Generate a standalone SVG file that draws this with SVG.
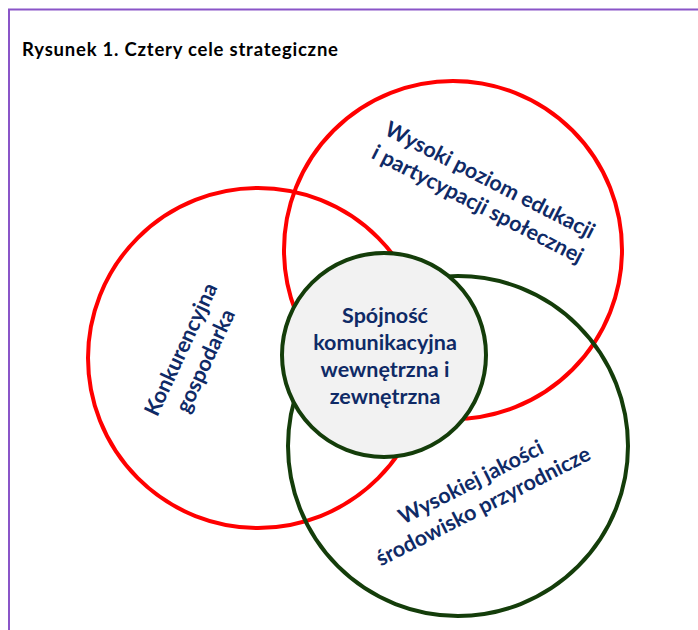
<svg xmlns="http://www.w3.org/2000/svg" width="698" height="630" viewBox="0 0 698 630">
<style>
.lbl{font-family:Lato,"Open Sans","Liberation Sans",sans-serif;font-weight:bold;fill:#0f2a66;font-size:21.5px;text-anchor:middle}
.red{fill:none;stroke:#ff0000;stroke-width:4}
.grn{fill:none;stroke:#143d0a;stroke-width:4}
</style>
<rect width="698" height="630" fill="#ffffff"/>
<path d="M9 640 V9.5 H710" fill="none" stroke="#8a55c8" stroke-width="2"/>
<text x="22" y="56" font-family="Lato,'Liberation Sans',sans-serif" font-weight="bold" font-size="18.5" fill="#000" textLength="316" lengthAdjust="spacing">Rysunek 1. Cztery cele strategiczne</text>
<g id="konkurencyjna">
<circle class="red" cx="258" cy="358" r="170"/>
</g>
<g id="edukacja">
<circle class="red" cx="453" cy="250" r="169"/>
</g>
<g id="srodowisko">
<circle class="grn" cx="458" cy="446" r="170"/>
</g>
<g id="spojnosc">
<circle cx="384" cy="355" r="102" fill="#f2f2f2" stroke="#143d0a" stroke-width="4"/>
<text class="lbl"><tspan x="385" y="323">Spójność</tspan><tspan x="385" y="350">komunikacyjna</tspan><tspan x="385" y="377">wewnętrzna i</tspan><tspan x="385" y="404">zewnętrzna</tspan></text>
</g>
<g id="labels">
<text class="lbl" transform="translate(484,192) rotate(27)"><tspan x="0" y="-6">Wysoki poziom edukacji</tspan><tspan x="0" y="21">i partycypacji społecznej</tspan></text>
<text class="lbl" transform="translate(193,355) rotate(-65)"><tspan x="0" y="-6">Konkurencyjna</tspan><tspan x="0" y="21">gospodarka</tspan></text>
<text class="lbl" transform="translate(477,494) rotate(-27)"><tspan x="0" y="-6">Wysokiej jakości</tspan><tspan x="0" y="21">środowisko przyrodnicze</tspan></text>
</g>
<g id="connectors"/>
</svg>
